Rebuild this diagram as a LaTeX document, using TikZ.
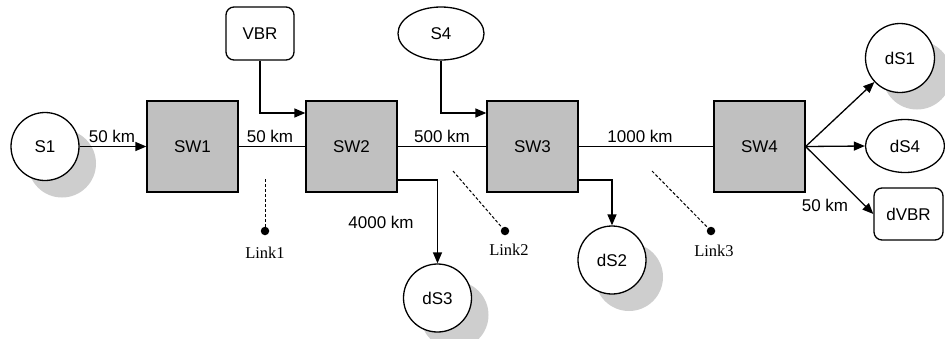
\documentclass[tikz,border=0pt]{standalone}
\usepackage{fontspec}
\setmainfont{Liberation Sans}
\newfontfamily\linkfont{Liberation Serif}
\usetikzlibrary{arrows.meta,shapes.geometric,shadows}
\definecolor{swgray}{RGB}{192,192,192}
\definecolor{shadowgray}{RGB}{206,206,206}

\begin{document}
\begin{tikzpicture}[x=1pt,y=-1pt,
  every node/.style={font=\fontsize{17}{19}\selectfont},
  switchbox/.style={draw, fill=swgray, line width=1.3pt, minimum width=91pt, minimum height=91pt, inner sep=0pt},
  host/.style={circle, draw, fill=white, line width=1.3pt, minimum size=68pt, inner sep=0pt,
    drop shadow={shadow xshift=17pt, shadow yshift=-17pt, fill=shadowgray, opacity=1}},
  oval/.style={ellipse, draw, fill=white, line width=1.3pt, minimum width=#1, minimum height=53pt, inner sep=0pt},
  rbox/.style={rectangle, rounded corners=8pt, draw, fill=white, line width=1.3pt, minimum width=68pt, minimum height=53pt, inner sep=0pt},
  arr/.style={line width=1.3pt, -{Triangle[length=11pt,width=9pt]}},
  plain/.style={line width=1.3pt},
  dist/.style={inner sep=0pt},
  linkline/.style={line width=1pt, dash pattern=on 3pt off 2pt},
  linkdot/.style={circle, fill=black, minimum size=8.5pt, inner sep=0pt},
  linklbl/.style={font=\linkfont\fontsize{16.5}{18}\selectfont, inner sep=0pt}
]
\useasboundingbox (0,0) rectangle (945,338);

% sources, switches and destinations
\node[host] (S1) at (45,146.5) {S1};
\node[switchbox] (SW1) at (192.5,146.5) {SW1};
\node[switchbox] (SW2) at (351.5,146.5) {SW2};
\node[switchbox] (SW3) at (532.5,146.5) {SW3};
\node[switchbox] (SW4) at (759.5,146.5) {SW4};
\node[rbox] (VBR) at (260,33.5) {VBR};
\node[oval=86pt] (S4) at (441,33.5) {S4};
\node[host] (dS3) at (437.5,298) {dS3};
\node[host] (dS2) at (612,260) {dS2};
\node[host, minimum size=69pt] (dS1) at (900,58) {dS1};
\node[oval=79pt] (dS4) at (905,146) {dS4};
\node[rbox, minimum width=69pt, minimum height=52pt] (dVBR) at (908.5,214) {dVBR};

% links along the chain
\draw[arr] (S1) -- (SW1);
\draw[plain] (SW1) -- (SW2);
\draw[plain] (SW2) -- (SW3);
\draw[plain] (SW3) -- (SW4);
\draw[arr] (VBR.south) |- ([yshift=33.5pt]SW2.west);
\draw[arr] (S4.south) |- ([yshift=33.5pt]SW3.west);
\draw[arr] ([yshift=-33.5pt]SW2.east) -| (dS3.north);
\draw[arr] ([yshift=-33.5pt]SW3.east) -| (dS2.north);
\draw[arr] (SW4.east) -- (dS1);
\draw[arr] (SW4.east) -- (dS4.west);
\draw[arr] (SW4.east) -- (dVBR.west);

% distance labels
\node[dist] (d1) at (112,136) {50 km};
\node[dist] (d2) at (270,136) {50 km};
\node[dist] (d3) at (442,136) {500 km};
\node[dist] (d4) at (640,136) {1000 km};
\node[dist] (d5) at (381,222) {4000 km};
\node[dist] (d6) at (825,205) {50 km};

% link markers
\coordinate (l1a) at (265,179);
\coordinate (l2a) at (453,171);
\coordinate (l3a) at (652,171);
\node[linkdot] (l1) at (265,231) {};
\node[linkdot] (l2) at (505,231) {};
\node[linkdot] (l3) at (711,231) {};
\draw[linkline] (l1a) -- (l1);
\draw[linkline] (l2a) -- (l2);
\draw[linkline] (l3a) -- (l3);
\node[linklbl] (t1) at (265,253) {Link1};
\node[linklbl] (t2) at (509,250) {Link2};
\node[linklbl] (t3) at (714,251) {Link3};
\end{tikzpicture}
\end{document}
